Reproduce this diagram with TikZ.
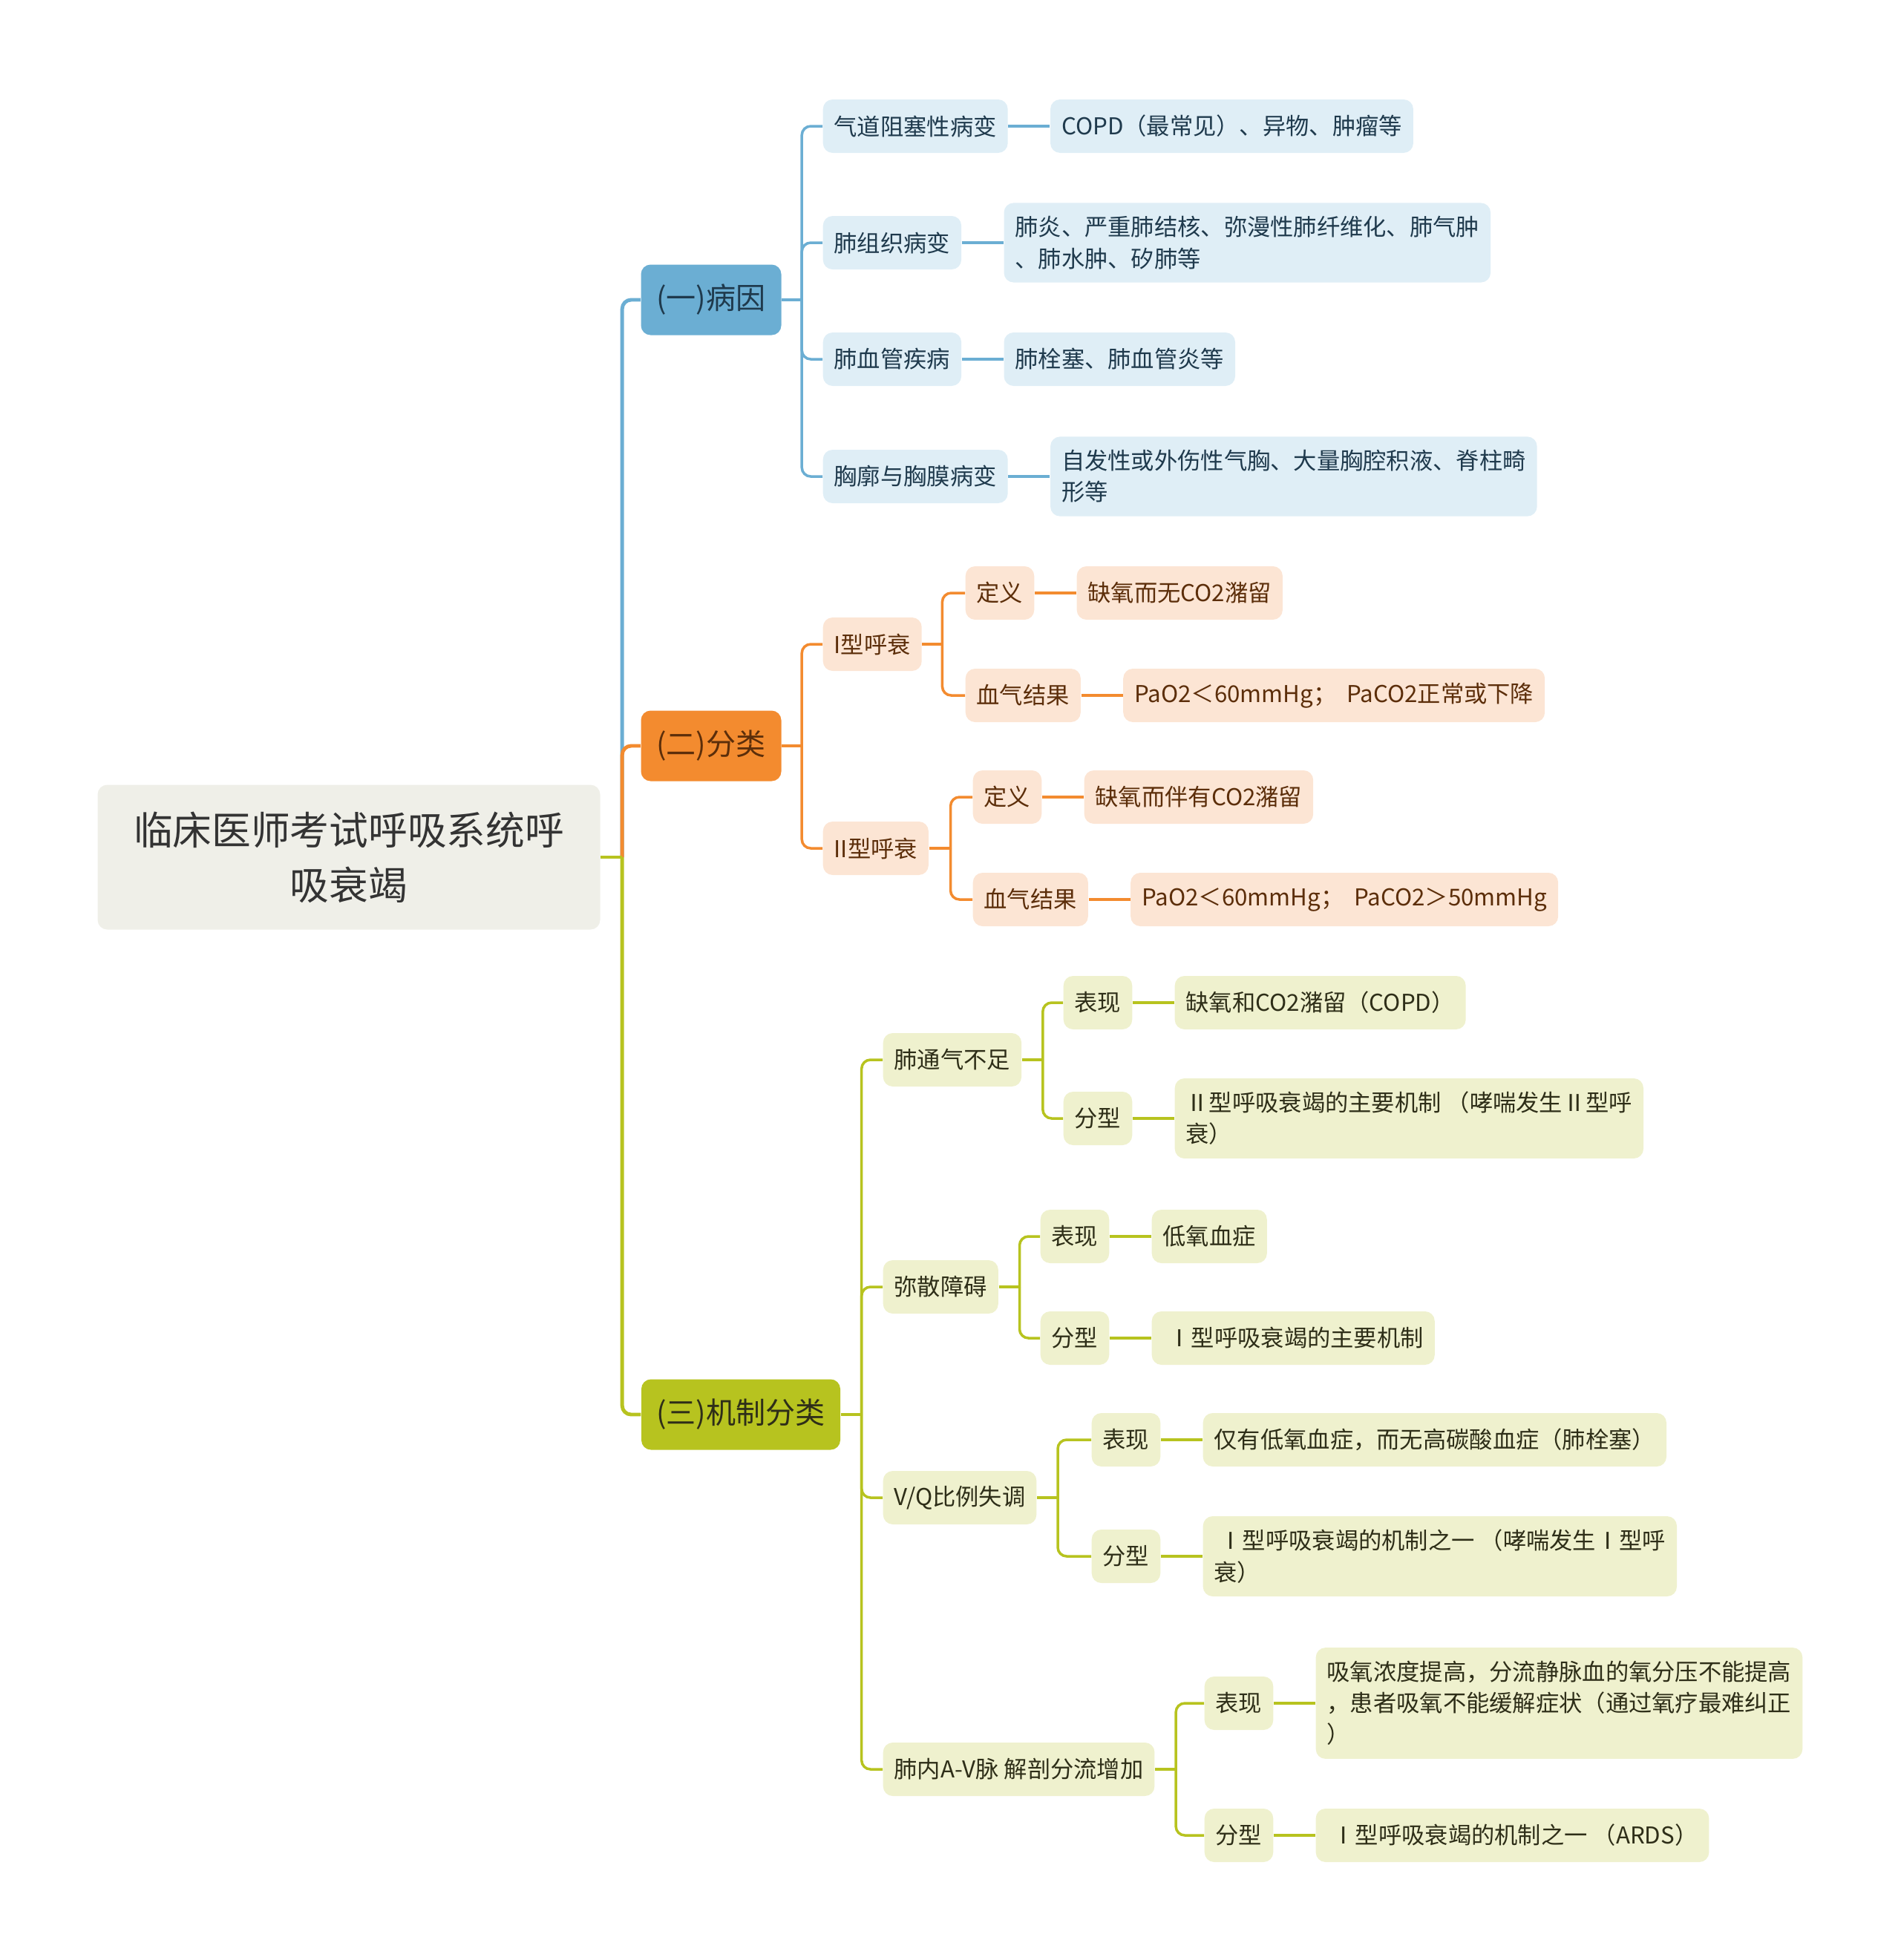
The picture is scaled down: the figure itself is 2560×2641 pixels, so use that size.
\documentclass[tikz,border=0pt]{standalone}
\usepackage{fontspec}
\setmainfont{Noto Sans CJK SC}
\usetikzlibrary{positioning}

\definecolor{bluemain}{HTML}{6BAED3}
\definecolor{bluelight}{HTML}{DFEEF6}
\definecolor{bluetext}{HTML}{1F3A4D}
\definecolor{orangemain}{HTML}{F38B2F}
\definecolor{orangelight}{HTML}{FCE5D4}
\definecolor{orangetext}{HTML}{5C2E0A}
\definecolor{greenmain}{HTML}{B7C31F}
\definecolor{greenlight}{HTML}{EFF1CE}
\definecolor{greentext}{HTML}{2E2E18}
\definecolor{rootfill}{HTML}{EFEFE8}

\begin{document}
\begin{tikzpicture}[x=0.1mm, y=-0.1mm, node distance=5.6mm,
every node/.style={rounded corners=1.3mm, align=left, inner xsep=1.5mm, inner ysep=1.8mm,
  minimum height=7.2mm, font=\fontsize{8.9}{12}\selectfont},
root/.style={fill=rootfill, text=black!80, align=center, minimum width=67.7mm,
  minimum height=19.5mm, font=\fontsize{15}{21}\selectfont},
main/.style={minimum height=9.5mm, align=center, font=\fontsize{11.4}{14}\selectfont},
bluebox/.style={fill=bluelight, text=bluetext},
orangebox/.style={fill=orangelight, text=orangetext},
greenbox/.style={fill=greenlight, text=greentext},
trunk/.style={line width=1.4pt, rounded corners=1.2mm},
link/.style={line width=1pt, rounded corners=1.2mm},
leaf/.style={line width=1.4pt}]

\useasboundingbox (0,0) rectangle (2560,2641);

\node[root] (root) at (470,1155) {临床医师考试呼吸系统呼\\吸衰竭};

\node[main, fill=bluemain, text=bluetext, minimum width=18.9mm] (cause) at (958,404) {(一)病因};
\node[main, fill=orangemain, text=orangetext, minimum width=18.9mm] (types) at (958,1005) {(二)分类};
\node[main, fill=greenmain, text=greentext, minimum width=26.8mm] (mech) at (998,1906) {(三)机制分类};

\node[bluebox, anchor=west] (c1) at (1108,170) {气道阻塞性病变};
\node[bluebox, right=of c1] (c1a) {COPD（最常见）、异物、肿瘤等};
\node[bluebox, anchor=west] (c2) at (1108,327) {肺组织病变};
\node[bluebox, right=of c2] (c2a) {肺炎、严重肺结核、弥漫性肺纤维化、肺气肿\\、肺水肿、矽肺等};
\node[bluebox, anchor=west] (c3) at (1108,484) {肺血管疾病};
\node[bluebox, right=of c3] (c3a) {肺栓塞、肺血管炎等};
\node[bluebox, anchor=west] (c4) at (1108,642) {胸廓与胸膜病变};
\node[bluebox, right=of c4] (c4a) {自发性或外伤性气胸、大量胸腔积液、脊柱畸\\形等};

\node[orangebox, anchor=west] (t1) at (1108,868) {I型呼衰};
\node[orangebox, anchor=west] (t1a) at (1300,799) {定义};
\node[orangebox, right=of t1a] (t1b) {缺氧而无CO2潴留};
\node[orangebox, anchor=west] (t1c) at (1300,937) {血气结果};
\node[orangebox, right=of t1c] (t1d) {PaO2＜60mmHg；\ \ PaCO2正常或下降};
\node[orangebox, anchor=west] (t2) at (1108,1143) {II型呼衰};
\node[orangebox, anchor=west] (t2a) at (1310,1074) {定义};
\node[orangebox, right=of t2a] (t2b) {缺氧而伴有CO2潴留};
\node[orangebox, anchor=west] (t2c) at (1310,1212) {血气结果};
\node[orangebox, right=of t2c] (t2d) {PaO2＜60mmHg；\ \ PaCO2＞50mmHg};

\node[greenbox, anchor=west] (m1) at (1189,1428) {肺通气不足};
\node[greenbox, anchor=west] (m1a) at (1432,1351) {表现};
\node[greenbox, right=of m1a] (m1b) {缺氧和CO2潴留（COPD）};
\node[greenbox, anchor=west] (m1c) at (1432,1507) {分型};
\node[greenbox, right=of m1c] (m1d) {Ⅱ型呼吸衰竭的主要机制 （哮喘发生Ⅱ型呼\\衰）};
\node[greenbox, anchor=west] (m2) at (1189,1734) {弥散障碍};
\node[greenbox, anchor=west] (m2a) at (1401,1666) {表现};
\node[greenbox, right=of m2a] (m2b) {低氧血症};
\node[greenbox, anchor=west] (m2c) at (1401,1803) {分型};
\node[greenbox, right=of m2c] (m2d) {\ Ⅰ型呼吸衰竭的主要机制};
\node[greenbox, anchor=west] (m3) at (1189,2018) {V/Q比例失调};
\node[greenbox, anchor=west] (m3a) at (1470,1940) {表现};
\node[greenbox, right=of m3a] (m3b) {仅有低氧血症，而无高碳酸血症（肺栓塞）};
\node[greenbox, anchor=west] (m3c) at (1470,2097) {分型};
\node[greenbox, right=of m3c] (m3d) {\ Ⅰ型呼吸衰竭的机制之一 （哮喘发生Ⅰ型呼\\衰）};
\node[greenbox, anchor=west] (m4) at (1189,2384) {肺内A-V脉 解剖分流增加};
\node[greenbox, anchor=west] (m4a) at (1622,2295) {表现};
\node[greenbox, right=of m4a] (m4b) {吸氧浓度提高，分流静脉血的氧分压不能提高\\，患者吸氧不能缓解症状（通过氧疗最难纠正\\）};
\node[greenbox, anchor=west] (m4c) at (1622,2473) {分型};
\node[greenbox, right=of m4c] (m4d) {\ Ⅰ型呼吸衰竭的机制之一 （ARDS）};

\draw[trunk, bluemain] ([xshift=2.9mm]root.east) |- (cause.west);
\draw[trunk, orangemain] ([xshift=2.9mm]root.east) |- (types.west);
\draw[trunk, greenmain] ([xshift=2.9mm]root.east) |- (mech.west);
\draw[trunk, greenmain] (root.east) -- ++(2.9mm,0);

\draw[link, bluemain] (cause.east) -- ++(2.7mm,0);
\foreach \c in {c1,c2,c3,c4}
  \draw[link, bluemain] ([xshift=2.7mm]cause.east) |- (\c.west);
\draw[leaf, bluemain] (c1) -- (c1a);
\draw[leaf, bluemain] (c2) -- (c2a);
\draw[leaf, bluemain] (c3) -- (c3a);
\draw[leaf, bluemain] (c4) -- (c4a);

\draw[link, orangemain] (types.east) -- ++(2.7mm,0);
\foreach \c in {t1,t2}
  \draw[link, orangemain] ([xshift=2.7mm]types.east) |- (\c.west);
\draw[link, orangemain] (t1.east) -- ++(2.7mm,0);
\foreach \c in {t1a,t1c}
  \draw[link, orangemain] ([xshift=2.7mm]t1.east) |- (\c.west);
\draw[link, orangemain] (t2.east) -- ++(2.9mm,0);
\foreach \c in {t2a,t2c}
  \draw[link, orangemain] ([xshift=2.9mm]t2.east) |- (\c.west);
\draw[leaf, orangemain] (t1a) -- (t1b);
\draw[leaf, orangemain] (t1c) -- (t1d);
\draw[leaf, orangemain] (t2a) -- (t2b);
\draw[leaf, orangemain] (t2c) -- (t2d);

\draw[link, greenmain] (mech.east) -- ++(2.8mm,0);
\foreach \c in {m1,m2,m3,m4}
  \draw[link, greenmain] ([xshift=2.8mm]mech.east) |- (\c.west);
\foreach \p in {m1,m2,m3,m4}{
  \draw[link, greenmain] (\p.east) -- ++(2.8mm,0);
  \draw[link, greenmain] ([xshift=2.8mm]\p.east) |- (\p a.west);
  \draw[link, greenmain] ([xshift=2.8mm]\p.east) |- (\p c.west);
  \draw[leaf, greenmain] (\p a) -- (\p b);
  \draw[leaf, greenmain] (\p c) -- (\p d);
}

\end{tikzpicture}
\end{document}
